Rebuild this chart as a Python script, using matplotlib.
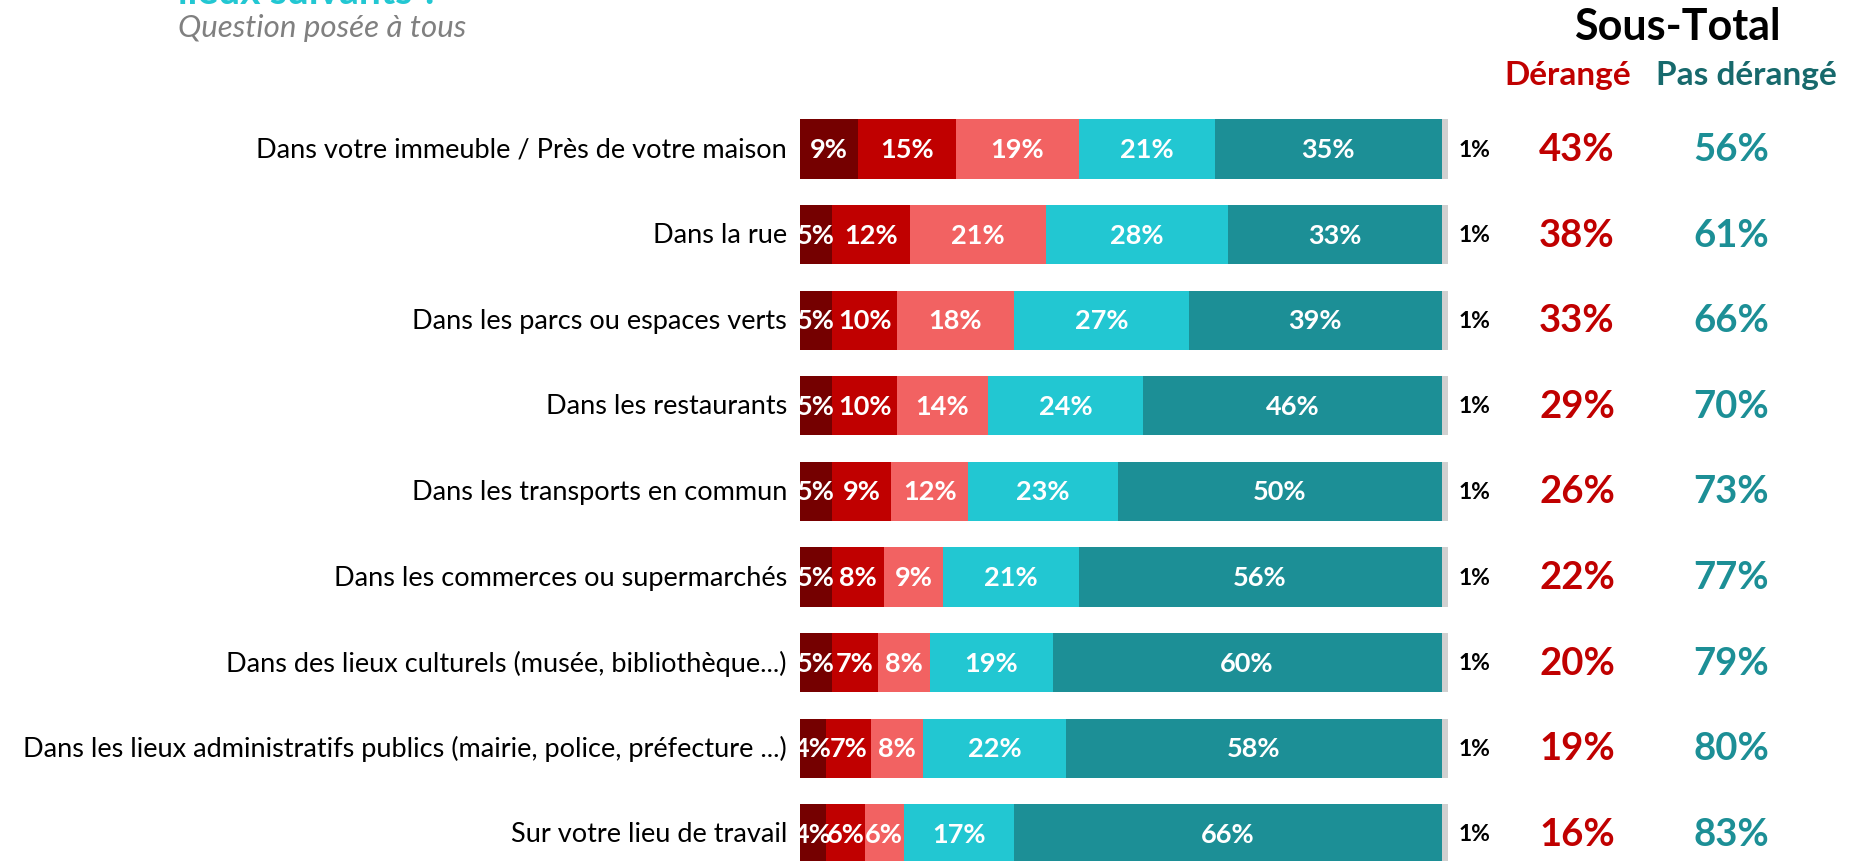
import matplotlib.pyplot as plt
from matplotlib.transforms import blended_transform_factory

plt.rcParams['font.family'] = ['Lato', 'DejaVu Sans']

lieux = [
    "Dans votre immeuble / Près de votre maison",
    "Dans la rue",
    "Dans les parcs ou espaces verts",
    "Dans les restaurants",
    "Dans les transports en commun",
    "Dans les commerces ou supermarchés",
    "Dans des lieux culturels (musée, bibliothèque...)",
    "Dans les lieux administratifs publics (mairie, police, préfecture ...)",
    "Sur votre lieu de travail",
]

tres_derange = [9, 5, 5, 5, 5, 5, 5, 4, 4]
assez_derange = [15, 12, 10, 10, 9, 8, 7, 7, 6]
peu_derange = [19, 21, 18, 14, 12, 9, 8, 8, 6]
pas_vraiment = [21, 28, 27, 24, 23, 21, 19, 22, 17]
pas_du_tout = [35, 33, 39, 46, 50, 56, 60, 58, 66]
nsp = [1, 1, 1, 1, 1, 1, 1, 1, 1]

st_derange = [43, 38, 33, 29, 26, 22, 20, 19, 16]
st_pas_derange = [56, 61, 66, 70, 73, 77, 79, 80, 83]

series = [tres_derange, assez_derange, peu_derange, pas_vraiment, pas_du_tout]
couleurs = ['#750000', '#C00000', '#F26262', '#22C7D2', '#1C8F96']
gris = '#D0D0D0'
rouge = '#C00000'
teal = '#1C8F96'

W, H = 1865, 862
fig = plt.figure(figsize=(W / 100, H / 100), dpi=100)

# bar area: x 800..1448 px, rows centred at 150 .. 835 px
pas = 85.6
top_px = 150 - pas / 2
h_px = pas * 9
ax = fig.add_axes([800 / W, 1 - (top_px + h_px) / H, 648 / W, h_px / H])
ax.set_xlim(0, 100)
ax.set_ylim(8.5, -0.5)
ax.axis('off')

y = list(range(len(lieux)))
gauche = [0] * len(lieux)
for vals, c in zip(series, couleurs):
    ax.barh(y, vals, left=gauche, height=0.69, color=c, linewidth=0)
    for i, v in enumerate(vals):
        ax.text(gauche[i] + v / 2, i, f"{v}%", ha='center', va='center',
                color='white', fontsize=19.5, fontweight='bold')
    gauche = [g + v for g, v in zip(gauche, vals)]
ax.barh(y, nsp, left=gauche, height=0.69, color=gris, linewidth=0)

tr = blended_transform_factory(fig.transFigure, ax.transData)
for i, nom in enumerate(lieux):
    ax.text(787 / W, i, nom, transform=tr, ha='right', va='center',
            fontsize=19.5, color='black')
    ax.text(1475 / W, i, f"{nsp[i]}%", transform=tr, ha='center', va='center',
            fontsize=16.5, fontweight='bold', color='black')
    ax.text(1577 / W, i, f"{st_derange[i]}%", transform=tr, ha='center',
            va='center', fontsize=27.5, fontweight='bold', color=rouge)
    ax.text(1731 / W, i, f"{st_pas_derange[i]}%", transform=tr, ha='center',
            va='center', fontsize=27.5, fontweight='bold', color=teal)

fig.text(1677 / W, 1 - 27 / H, "Sous-Total", ha='center', va='center',
         fontsize=31, fontweight='bold', color='black')
fig.text(1568 / W, 1 - 75 / H, "Dérangé", ha='center', va='center',
         fontsize=24, fontweight='bold', color=rouge)
fig.text(1746 / W, 1 - 75 / H, "Pas dérangé", ha='center', va='center',
         fontsize=24, fontweight='bold', color='#17696C')

# title line, cut by the top edge as in the source slide
fig.text(178 / W, 1 - 4 / H, "lieux suivants ?", ha='left', va='baseline',
         fontsize=28, fontweight='bold', color='#22C7D2')
fig.text(178 / W, 1 - 28 / H, "Question posée à tous", ha='left', va='center',
         fontsize=22.5, style='italic', color='#808080')

fig.savefig('out.png', dpi=100)
